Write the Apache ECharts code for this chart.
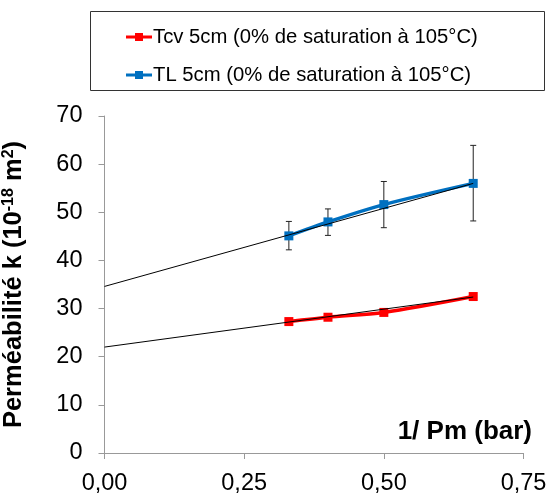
<!DOCTYPE html>
<html><head><meta charset="utf-8">
<script src="https://cdn.jsdelivr.net/npm/echarts@6/dist/echarts.min.js"></script>
<style>html,body{margin:0;padding:0;background:#fff}#c{width:549px;height:498px}</style>
</head><body><div id="c"></div>
<script>
const xValues = [0.33, 0.40, 0.50, 0.66];
const tcvValues = [27.3, 28.2, 29.2, 32.5];
const tlValues = [45.1, 48.0, 51.6, 56.0];
const tlErrLow = [42.2, 45.2, 46.8, 48.2];
const tlErrHigh = [48.1, 50.7, 56.4, 63.9];
const tcvTrend = [[0, 22.0], [0.66, 32.4]];
const tlTrend = [[0, 34.6], [0.66, 56.0]];
const xTicks = ['0,00', '0,25', '0,50', '0,75'];
const seriesNames = ['Tcv 5cm (0% de saturation à 105°C)', 'TL 5cm (0% de saturation à 105°C)'];

const chart = echarts.init(document.getElementById('c'));
const font = 'Liberation Sans, Arial, sans-serif';
const errData = xValues.map((x, i) => [x, tlErrLow[i], tlErrHigh[i]]);
const legendIcon = 'path://M0,2.5 L26,2.5 L26,5.5 L0,5.5 Z M9,0 L17,0 L17,8 L9,8 Z';
chart.setOption({
  animation: false,
  textStyle: { fontFamily: font },
  grid: { left: 104.5, right: 25.5, top: 116, bottom: 45, containLabel: false, outerBoundsMode: 'none' },
  legend: {
    orient: 'vertical', left: 121, top: 22, itemGap: 18, itemWidth: 26, itemHeight: 8,
    icon: legendIcon,
    data: seriesNames,
    textStyle: { fontFamily: font, fontSize: 20.3, color: '#000', padding: [0, 0, 0, -4] }
  },
  graphic: [
    { type: 'rect', shape: { x: 90.5, y: 11.5, width: 454, height: 79 }, style: { fill: 'none', stroke: '#333', lineWidth: 1 }, silent: true },
    { type: 'text', x: 532, y: 432, style: { text: '1/ Pm (bar)', fill: '#000', font: 'bold 26px ' + font, textAlign: 'right', textVerticalAlign: 'middle' }, silent: true }
  ],
  xAxis: {
    type: 'value', min: 0, max: 0.75, interval: 0.25,
    axisLine: { lineStyle: { color: '#999' } },
    axisTick: { show: true, length: 6, lineStyle: { color: '#999' } },
    splitLine: { show: false },
    axisLabel: { fontSize: 23.5, color: '#000', margin: 19, formatter: (v) => xTicks[Math.round(v / 0.25)] }
  },
  yAxis: {
    type: 'value', min: 0, max: 70, interval: 10,
    axisLine: { show: true, lineStyle: { color: '#999' } },
    axisTick: { show: true, length: 6, lineStyle: { color: '#999' } },
    splitLine: { show: false },
    axisLabel: { fontSize: 23.5, color: '#000', margin: 22 },
    name: 'Perméabilité k (10{sup|-18} m{sup|2})', nameLocation: 'middle', nameGap: 78, nameRotate: 90,
    nameTextStyle: { fontSize: 25.5, fontWeight: 'bold', color: '#000', rich: { sup: { fontSize: 16, fontWeight: 'bold', color: '#000', verticalAlign: 'top', padding: [0, 0, 10, 0] } } }
  },
  series: [
    { name: 'trend1', type: 'line', data: tcvTrend, symbol: 'none', silent: true, lineStyle: { color: '#000', width: 1 }, z: 3 },
    { name: 'trend2', type: 'line', data: tlTrend, symbol: 'none', silent: true, lineStyle: { color: '#000', width: 1 }, z: 3 },
    {
      name: 'err', type: 'custom', data: errData, silent: true, z: 1,
      renderItem: (params, api) => {
        const x = api.value(0);
        const lo = api.coord([x, api.value(1)]);
        const hi = api.coord([x, api.value(2)]);
        const w = 3;
        const st = { stroke: '#222', lineWidth: 1 };
        return { type: 'group', children: [
          { type: 'line', shape: { x1: lo[0], y1: lo[1], x2: hi[0], y2: hi[1] }, style: st },
          { type: 'line', shape: { x1: lo[0] - w, y1: lo[1], x2: lo[0] + w, y2: lo[1] }, style: st },
          { type: 'line', shape: { x1: hi[0] - w, y1: hi[1], x2: hi[0] + w, y2: hi[1] }, style: st }
        ] };
      }
    },
    {
      name: seriesNames[0], type: 'line', data: xValues.map((x, i) => [x, tcvValues[i]]),
      symbol: 'rect', symbolSize: 9, smooth: 0.3,
      itemStyle: { color: '#FF0000' }, lineStyle: { color: '#FF0000', width: 3.5 }, z: 2
    },
    {
      name: seriesNames[1], type: 'line', data: xValues.map((x, i) => [x, tlValues[i]]),
      symbol: 'rect', symbolSize: 9, smooth: 0.3,
      itemStyle: { color: '#0070C0' }, lineStyle: { color: '#0070C0', width: 3.5 }, z: 2
    }
  ]
});
</script></body></html>
